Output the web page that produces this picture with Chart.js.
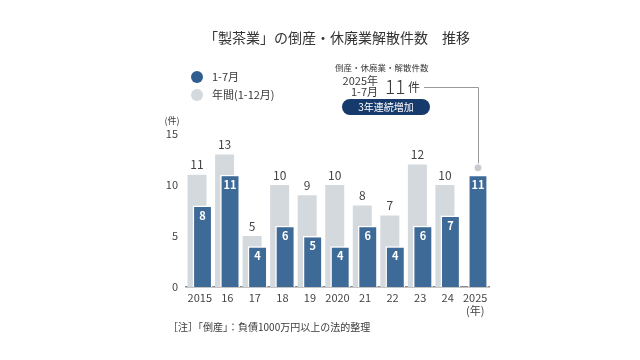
<!DOCTYPE html>
<html lang="ja">
<head>
<meta charset="utf-8">
<script src="https://cdn.jsdelivr.net/npm/chart.js@4/dist/chart.umd.min.js"></script>
<style>
  html, body { margin: 0; padding: 0; background: #fff; }
  #wrap { width: 640px; height: 360px; position: relative; }
</style>
</head>
<body>
<div id="wrap"><canvas id="chart"></canvas></div>
<script>
// --- データ ---
const years = ['2015', '16', '17', '18', '19', '2020', '21', '22', '23', '24', ['2025', '(年)']];
const annualCounts = [11, 13, 5, 10, 9, 10, 8, 7, 12, 10, null];   // 年間(1-12月)
const janJulCounts = [8, 11, 4, 6, 5, 4, 6, 4, 6, 7, 11];          // 1-7月
const yTicks = [0, 5, 10, 15];
const seriesNames = ['年間(1-12月)', '1-7月'];

const FONT = '"Noto Sans CJK JP", "Noto Sans", sans-serif';
const BLUE = '#3e6a98';
const GRAY = '#d4d9de';
const TEXT = '#3a3a3a';

Chart.defaults.font.family = FONT;

// 棒を左右にずらす（年間は左、1-7月は右）
const shiftBars = {
    id: 'shiftBars',
    afterDatasetsUpdate(chart) {
        const xs = chart.scales.x;
        const step = xs.width / years.length;
        chart.getDatasetMeta(0).data.forEach(b => { b.x -= step * 0.1; });
        chart.getDatasetMeta(1).data.forEach(b => { b.x += step * 0.1; });
    }
};

// 数値ラベル
const valueLabels = {
    id: 'valueLabels',
    afterDatasetsDraw(chart) {
        const ctx = chart.ctx;
        ctx.save();
        ctx.textAlign = 'center';
        ctx.textBaseline = 'middle';

        ctx.font = '12px ' + FONT;
        ctx.fillStyle = '#444';
        chart.getDatasetMeta(0).data.forEach((b, i) => {
            if (annualCounts[i] == null) return;
            ctx.fillText(String(annualCounts[i]), b.x, b.y - 10);
        });

        ctx.font = 'bold 11px ' + FONT;
        ctx.fillStyle = '#fff';
        chart.getDatasetMeta(1).data.forEach((b, i) => {
            ctx.fillText(String(janJulCounts[i]), b.x, b.y + 10);
        });
        ctx.restore();
    }
};

// タイトル・凡例・注記
const decorations = {
    id: 'decorations',
    afterDraw(chart) {
        const ctx = chart.ctx;
        ctx.save();

        // タイトル
        ctx.fillStyle = '#333';
        ctx.textAlign = 'center';
        ctx.textBaseline = 'middle';
        ctx.font = '14px ' + FONT;
        ctx.fillText('「製茶業」の倒産・休廃業解散件数\u3000推移', 337, 38);

        // 凡例
        ctx.textAlign = 'left';
        ctx.font = '11px ' + FONT;
        ctx.fillStyle = '#2f5d90';
        ctx.beginPath(); ctx.arc(197, 77, 6, 0, Math.PI * 2); ctx.fill();
        ctx.fillStyle = GRAY;
        ctx.beginPath(); ctx.arc(197, 95, 6, 0, Math.PI * 2); ctx.fill();
        ctx.fillStyle = TEXT;
        ctx.fillText(seriesNames[1], 212, 77);
        ctx.fillText(seriesNames[0], 212, 95);

        // (件)
        ctx.textAlign = 'center';
        ctx.font = '9px ' + FONT;
        ctx.fillText('(件)', 172, 121);

        // 注記ボックス
        ctx.font = '8.5px ' + FONT;
        ctx.textAlign = 'left';
        ctx.fillText('倒産・休廃業・解散件数', 335, 68);
        ctx.textAlign = 'right';
        ctx.font = '11px ' + FONT;
        ctx.fillText('2025年', 378, 81);
        ctx.fillText('1-7月', 378, 92);
        ctx.textAlign = 'left';
        ctx.font = '300 19px ' + FONT;
        ctx.fillText(String(janJulCounts[janJulCounts.length - 1]), 385, 87);
        ctx.font = '12px ' + FONT;
        ctx.fillText('件', 408, 87);

        // バッジ
        ctx.fillStyle = '#173a6c';
        ctx.beginPath();
        ctx.roundRect(342, 99, 88, 16, 8);
        ctx.fill();
        ctx.fillStyle = '#fff';
        ctx.textAlign = 'center';
        ctx.font = '10px ' + FONT;
        ctx.fillText('3年連続増加', 386, 107.5);

        // 引き出し線
        const last = chart.getDatasetMeta(1).data[janJulCounts.length - 1];
        const cy = last.y - 7;
        ctx.strokeStyle = '#9a9a9a';
        ctx.lineWidth = 1;
        ctx.beginPath();
        ctx.moveTo(424, 87.5);
        ctx.lineTo(Math.round(last.x) + 0.5, 87.5);
        ctx.lineTo(Math.round(last.x) + 0.5, cy - 4);
        ctx.stroke();
        ctx.fillStyle = '#c6cbd1';
        ctx.strokeStyle = '#fff';
        ctx.beginPath(); ctx.arc(last.x, cy, 4, 0, Math.PI * 2); ctx.fill(); ctx.stroke();

        // 注
        ctx.fillStyle = TEXT;
        ctx.textAlign = 'left';
        ctx.font = '10px ' + FONT;
        ctx.fillText('［注］「倒産」：負債1000万円以上の法的整理', 168, 327);

        ctx.restore();
    }
};

new Chart(document.querySelector('#chart'), {
    type: 'bar',
    data: {
        labels: years,
        datasets: [
            {
                label: seriesNames[0],
                data: annualCounts,
                backgroundColor: GRAY,
                borderWidth: 0,
                grouped: false,
                order: 1,
                categoryPercentage: 1,
                barPercentage: 0.69
            },
            {
                label: seriesNames[1],
                data: janJulCounts,
                backgroundColor: BLUE,
                borderColor: '#ffffff',
                borderWidth: { top: 1.5, left: 1.5, right: 1.5, bottom: 0 },
                grouped: false,
                order: 0,
                categoryPercentage: 1,
                barPercentage: 0.72
            }
        ]
    },
    options: {
        responsive: true,
        maintainAspectRatio: false,
        animation: false,
        layout: { padding: { left: 156, right: 151, top: 134, bottom: 33 } },
        plugins: {
            legend: { display: false },
            tooltip: { enabled: false }
        },
        scales: {
            x: {
                grid: { display: false, drawTicks: false },
                border: { display: true, color: '#8a8a8a', width: 1.5 },
                ticks: { color: '#444', font: { size: 11 }, padding: 4, maxRotation: 0 },
                afterFit: (axis) => { axis.height = 40; }
            },
            y: {
                min: 0,
                max: 15,
                grid: { display: false, drawTicks: false },
                border: { display: false },
                afterBuildTicks: (axis) => { axis.ticks = yTicks.map(v => ({ value: v })); },
                ticks: { color: '#444', font: { size: 11 }, padding: 8 },
                afterFit: (axis) => { axis.width = 30; }
            }
        }
    },
    plugins: [shiftBars, valueLabels, decorations]
});
</script>
</body>
</html>
